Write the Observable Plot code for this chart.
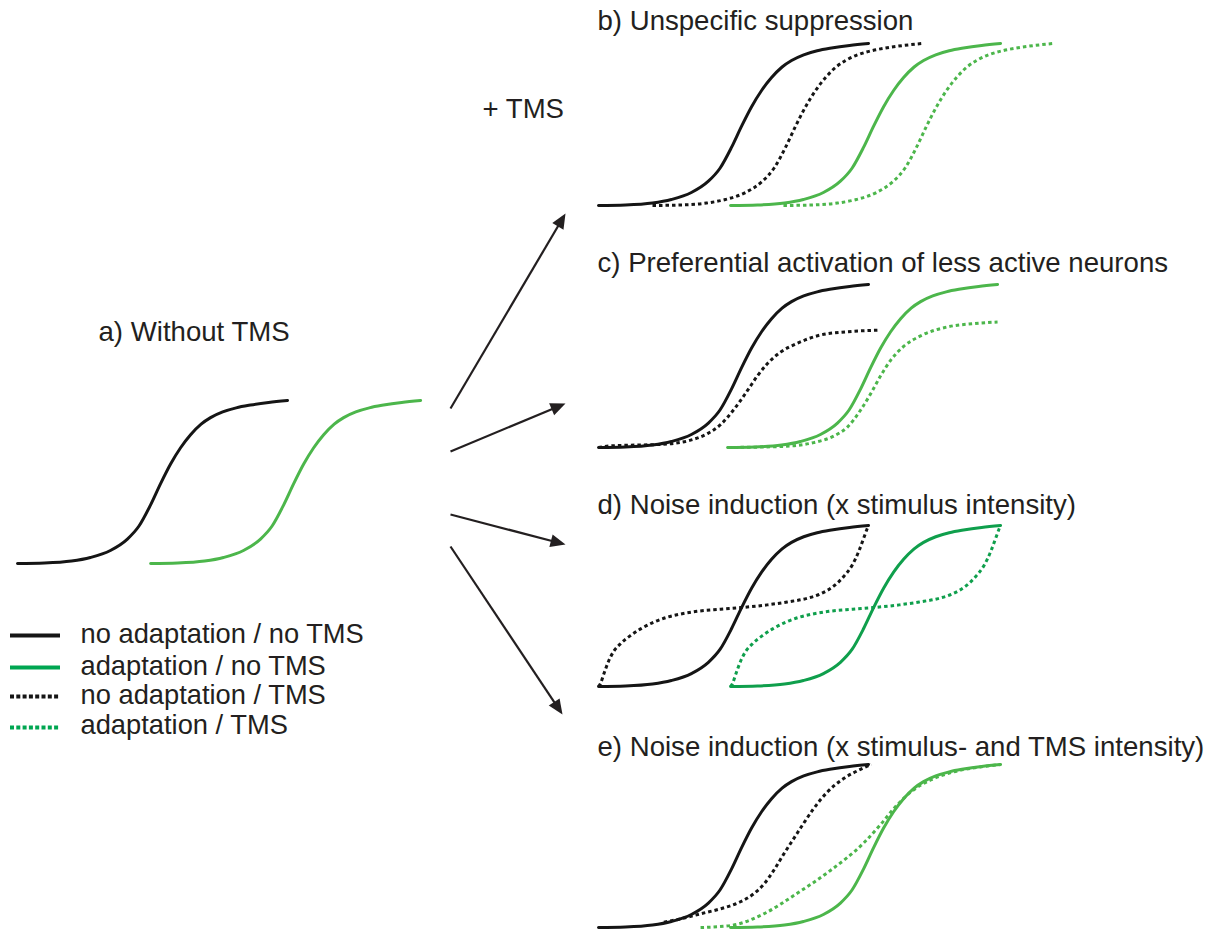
<!DOCTYPE html>
<html>
<head>
<meta charset="utf-8">
<script src="https://cdn.jsdelivr.net/npm/d3@7"></script>
<script src="https://cdn.jsdelivr.net/npm/@observablehq/plot@0.6"></script>
<style>
  body { margin: 0; background: #fff; }
  #fig { position: relative; width: 1211px; height: 930px; overflow: hidden; }
  #fig svg { position: absolute; overflow: visible; max-width: none; background: transparent; }
</style>
</head>
<body>
<div id="fig"></div>
<script>
// ---------------------------------------------------------------------------
// Data: stimulus intensity (a.u.) vs normalised response (0..1)
// ---------------------------------------------------------------------------

// Curve legend
const seriesKeys   = ["noAdaptNoTMS", "adaptNoTMS", "noAdaptTMS", "adaptTMS"];
const seriesLabels = ["no adaptation / no TMS", "adaptation / no TMS", "no adaptation / TMS", "adaptation / TMS"];

// Panel titles
const panelIds    = ["a", "b", "c", "d", "e"];
const panelTitles = [
  "a) Without TMS",
  "b) Unspecific suppression",
  "c) Preferential activation of less active neurons",
  "d) Noise induction (x stimulus intensity)",
  "e) Noise induction (x stimulus- and TMS intensity)"
];
const tmsLabel = "+ TMS";

// Baseline tuning curve (no adaptation, no TMS)
const baseStim = [0, 1.0, 2.0, 2.7, 3.44, 4.07, 4.5, 4.93, 5.3, 5.67, 6.04, 6.41, 6.8, 7.15, 7.6, 8.1, 8.63, 9.3, 10];
const baseResp = [0, 0.003, 0.015, 0.037, 0.08, 0.15, 0.23, 0.36, 0.49, 0.61, 0.71, 0.79, 0.855, 0.895, 0.93, 0.955, 0.972, 0.988, 1.0];

// Shift of the adapted curve along the stimulus axis, per panel
const adaptShift = [4.93, 4.89, 4.78, 4.89, 4.89];

// b) Unspecific suppression: TMS curves shifted to the right
const bTmsShift      = 2.0;
const bAdaptTmsShift = 6.85;

// c) Preferential activation: reduced plateau under TMS
const cNoAdaptTmsStim = [0, 0.44, 2.41, 3.41, 4.04, 4.52, 5.0, 5.52, 5.89, 6.26, 6.74, 7.37, 8.22, 9.22, 10.33];
const cNoAdaptTmsResp = [0, 0.01, 0.02, 0.045, 0.085, 0.14, 0.23, 0.35, 0.44, 0.515, 0.585, 0.64, 0.69, 0.71, 0.72];
const cAdaptTmsStim   = [0, 1.96, 3.19, 3.93, 4.44, 4.93, 5.3, 5.67, 6.04, 6.52, 7.15, 8.15, 9.11, 10.0];
const cAdaptTmsResp   = [0, 0.006, 0.03, 0.07, 0.125, 0.23, 0.33, 0.44, 0.535, 0.62, 0.685, 0.74, 0.76, 0.77];

// d) Noise induction (x stimulus intensity): flattened, inverted-shape curve
const dTmsStim = [0, 0.07, 0.2, 0.38, 0.57, 0.81, 1.19, 1.56, 2.05, 2.54, 3.04, 3.65, 4.52, 5.26, 6.25, 6.99, 7.73, 8.22, 8.72, 9.09, 9.4, 9.64, 9.83, 9.95, 10];
const dTmsResp = [0, 0.017, 0.079, 0.16, 0.22, 0.265, 0.317, 0.358, 0.40, 0.43, 0.45, 0.467, 0.48, 0.49, 0.507, 0.525, 0.548, 0.575, 0.625, 0.685, 0.755, 0.84, 0.925, 0.98, 1.0];

// e) Noise induction (x stimulus- and TMS intensity)
const eNoAdaptTmsStim = [2.42, 3.04, 3.78, 4.52, 5.26, 5.75, 6.12, 6.49, 6.86, 7.23, 7.6, 7.97, 8.47, 9.09, 9.7, 10.1];
const eNoAdaptTmsResp = [0.033, 0.053, 0.084, 0.115, 0.158, 0.207, 0.265, 0.35, 0.45, 0.545, 0.64, 0.73, 0.83, 0.915, 0.97, 1.0];
const eAdaptTmsStim   = [3.78, 4.89, 6.12, 7.36, 8.59, 9.83, 10.44, 10.94, 11.56, 12.3, 13.16, 14.15, 14.91];
const eAdaptTmsResp   = [0.0, 0.012, 0.084, 0.21, 0.35, 0.52, 0.63, 0.73, 0.83, 0.905, 0.955, 0.985, 1.0];

// ---------------------------------------------------------------------------
// Styling and layout
// ---------------------------------------------------------------------------
const FONT = "'Liberation Sans', Arial, Helvetica, sans-serif";
const TEXT = "#231f20";
const BLACK = "#151515";
const GREEN_LIGHT = "#4cb64b";
const GREEN_DARK = "#0f9f4c";
const GREEN_KEY = "#00a651";
const DOTS = "3.5,3";
const UNIT = 27;          // pixels per stimulus unit
const SPAN = 17;          // stimulus extent of each panel

// where each small panel sits on the page
const panelBox = {
  a: { left: 17,  bottom: 563, h: 163, green: GREEN_LIGHT },
  b: { left: 598, bottom: 205, h: 162, green: GREEN_LIGHT },
  c: { left: 598, bottom: 447, h: 163, green: GREEN_LIGHT },
  d: { left: 598, bottom: 686, h: 161, green: GREEN_DARK },
  e: { left: 598, bottom: 927, h: 163, green: GREEN_LIGHT }
};

function pts(stim, resp, shift = 0) {
  return stim.map((s, i) => ({ s: s + shift, r: resp[i] }));
}

// curves of each panel, by series (drawn in this order)
const panelCurves = {
  a: [
    ["noAdaptNoTMS", pts(baseStim, baseResp)],
    ["adaptNoTMS",   pts(baseStim, baseResp, adaptShift[0])]
  ],
  b: [
    ["noAdaptNoTMS", pts(baseStim, baseResp)],
    ["adaptNoTMS",   pts(baseStim, baseResp, adaptShift[1])],
    ["noAdaptTMS",   pts(baseStim, baseResp, bTmsShift)],
    ["adaptTMS",     pts(baseStim, baseResp, bAdaptTmsShift)]
  ],
  c: [
    ["noAdaptNoTMS", pts(baseStim, baseResp)],
    ["adaptNoTMS",   pts(baseStim, baseResp, adaptShift[2])],
    ["noAdaptTMS",   pts(cNoAdaptTmsStim, cNoAdaptTmsResp)],
    ["adaptTMS",     pts(cAdaptTmsStim, cAdaptTmsResp, adaptShift[2])]
  ],
  d: [
    ["noAdaptNoTMS", pts(baseStim, baseResp)],
    ["adaptNoTMS",   pts(baseStim, baseResp, adaptShift[3])],
    ["noAdaptTMS",   pts(dTmsStim, dTmsResp)],
    ["adaptTMS",     pts(dTmsStim, dTmsResp, adaptShift[3])]
  ],
  e: [
    ["noAdaptNoTMS", pts(baseStim, baseResp)],
    ["adaptNoTMS",   pts(baseStim, baseResp, adaptShift[4])],
    ["noAdaptTMS",   pts(eNoAdaptTmsStim, eNoAdaptTmsResp)],
    ["adaptTMS",     pts(eAdaptTmsStim, eAdaptTmsResp)]
  ]
};

function seriesStyle(key, green) {
  const isGreen = key === "adaptNoTMS" || key === "adaptTMS";
  const dotted = key === "noAdaptTMS" || key === "adaptTMS";
  return {
    stroke: isGreen ? green : BLACK,
    strokeWidth: 3,
    strokeDasharray: dotted ? DOTS : null,
    strokeLinecap: dotted ? "butt" : "round"
  };
}

const fig = document.getElementById("fig");

// ---------------------------------------------------------------------------
// Panels: one small plot per panel, stimulus on x, response on y
// ---------------------------------------------------------------------------
const M = 8;
for (const id of panelIds) {
  const box = panelBox[id];
  const svg = Plot.plot({
    width: SPAN * UNIT + 2 * M,
    height: box.h + 2 * M,
    margin: M,
    x: { domain: [0, SPAN], axis: null },
    y: { domain: [0, 1], axis: null },
    style: { background: "transparent", overflow: "visible" },
    marks: panelCurves[id].map(([key, data]) =>
      Plot.line(data, { x: "s", y: "r", curve: "monotone-x", ...seriesStyle(key, box.green) })
    )
  });
  svg.style.left = (box.left - M) + "px";
  svg.style.top = (box.bottom - box.h - M) + "px";
  fig.appendChild(svg);
}

// ---------------------------------------------------------------------------
// Page layer: titles, arrows and key, in page coordinates
// ---------------------------------------------------------------------------
const titleAnchor = { a: [98, 331.5], b: [597, 20.5], c: [597, 262.5], d: [597, 504.5], e: [597, 746.5] };
const tmsAnchor = [482, 108.5];

// arrows from panel a to panels b..e
const arrowFrom = [[450, 408], [450, 451], [450, 514], [450, 546]];
const arrowTo   = [[565, 213], [565, 403], [565, 544], [562, 714]];
const HEAD = 15;
const arrows = arrowFrom.map((f, i) => {
  const [x1, y1] = f, [x2, y2] = arrowTo[i];
  const L = Math.hypot(x2 - x1, y2 - y1);
  const ux = (x2 - x1) / L, uy = (y2 - y1) / L;
  return {
    x1, y1, x2: x2 - ux * (HEAD - 4), y2: y2 - uy * (HEAD - 4),
    tx: x2, ty: y2, angle: Math.atan2(ux, -uy) * 180 / Math.PI
  };
});
const headSymbol = {
  draw(ctx) {
    ctx.moveTo(0, 0);
    ctx.lineTo(-6.5, HEAD);
    ctx.lineTo(6.5, HEAD);
    ctx.closePath();
  }
};

const KEY_X1 = 10, KEY_X2 = 60, KEY_TX = 80;
const keyLineY = [635, 667, 696, 727];
const keyTextY = [634, 666, 695, 725];

const titleRows = panelIds.map((id, i) => ({ label: panelTitles[i], x: titleAnchor[id][0], y: titleAnchor[id][1] }));
titleRows.push({ label: tmsLabel, x: tmsAnchor[0], y: tmsAnchor[1] });

const keyMarks = seriesKeys.map((key, i) => {
  const st = seriesStyle(key, GREEN_KEY);
  return Plot.ruleY([keyLineY[i]], {
    x1: KEY_X1, x2: KEY_X2,
    stroke: st.stroke, strokeWidth: 3.8,
    strokeDasharray: st.strokeDasharray ? "4,2.3" : null
  });
});

const page = Plot.plot({
  width: 1211,
  height: 930,
  margin: 0,
  x: { domain: [0, 1211], range: [0, 1211], axis: null },
  y: { domain: [0, 930], range: [0, 930], axis: null },
  style: { background: "transparent", overflow: "visible", fontFamily: FONT },
  marks: [
    Plot.link(arrows, { x1: "x1", y1: "y1", x2: "x2", y2: "y2", stroke: TEXT, strokeWidth: 2.2 }),
    Plot.dot(arrows, { x: "tx", y: "ty", symbol: headSymbol, r: 5, rotate: "angle", fill: TEXT, stroke: "none" }),
    Plot.text(titleRows, { x: "x", y: "y", text: "label", textAnchor: "start", fontSize: 27.6, fill: TEXT, fontFamily: FONT }),
    ...keyMarks,
    Plot.text(seriesLabels, { x: () => KEY_TX, y: (d, i) => keyTextY[i], text: d => d, textAnchor: "start", fontSize: 27.3, fill: TEXT, fontFamily: FONT })
  ]
});
page.style.left = "0px";
page.style.top = "0px";
fig.insertBefore(page, fig.firstChild);
</script>
</body>
</html>
